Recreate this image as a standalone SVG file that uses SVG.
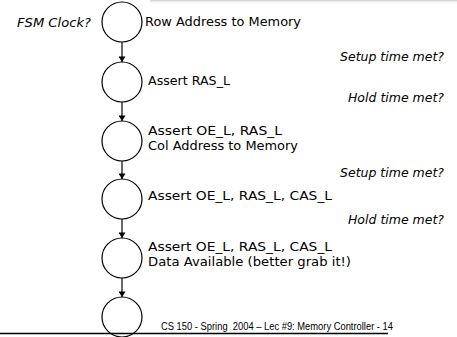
<svg xmlns="http://www.w3.org/2000/svg" width="457" height="337" viewBox="0 0 457 337">
<defs>
<style>
.st{fill:#fff;stroke:#000;stroke-width:1.2}
.lbl{font-family:"Comic Sans MS","DejaVu Sans","Liberation Sans",sans-serif;font-size:12.5px;fill:#000}
.q{font-family:"Comic Sans MS","DejaVu Sans","Liberation Sans",sans-serif;font-size:12.5px;font-style:italic;fill:#000}
.ft{font-family:"Liberation Sans",Arial,sans-serif;font-size:10px;fill:#000}
.ed{stroke:#000;stroke-width:1.2;fill:none;marker-end:url(#ah)}
</style>
<marker id="ah" viewBox="0 0 8 10" refX="8" refY="5" markerWidth="6" markerHeight="7" markerUnits="userSpaceOnUse" orient="auto"><path d="M0,0 L8,5 L0,10 Z" fill="#000"/></marker>
<linearGradient id="tg" x1="0" y1="0" x2="0" y2="1"><stop offset="0" stop-color="#c8c8c8"/><stop offset="1" stop-color="#fff" stop-opacity="0"/></linearGradient>
</defs>
<rect x="0" y="0" width="457" height="337" fill="#fff"/>
<rect x="150" y="0" width="307" height="4" fill="url(#tg)"/>
<g id="connectors">
<path class="ed" d="M122,42 V62"/>
<path class="ed" d="M122,102 V121"/>
<path class="ed" d="M122,161 V179"/>
<path class="ed" d="M122,219 V238"/>
<path class="ed" d="M122,278 V297"/>
</g>
<g id="s1"><circle class="st" cx="122" cy="22" r="20"/></g>
<g id="s2"><circle class="st" cx="122" cy="82" r="20"/></g>
<g id="s3"><circle class="st" cx="122" cy="141" r="20"/></g>
<g id="s4"><circle class="st" cx="122" cy="199" r="20"/></g>
<g id="s5"><circle class="st" cx="122" cy="258" r="20"/></g>
<g id="s6"><circle class="st" cx="122" cy="317" r="20"/></g>
<g id="labels">
<text class="q" x="17" y="27" textLength="74" lengthAdjust="spacingAndGlyphs">FSM Clock?</text>
<text class="lbl" x="145" y="26" textLength="156" lengthAdjust="spacingAndGlyphs">Row Address to Memory</text>
<text class="q" x="444" y="61" text-anchor="end">Setup time met?</text>
<text class="lbl" x="148" y="85" textLength="82" lengthAdjust="spacingAndGlyphs">Assert RAS_L</text>
<text class="q" x="444" y="102" text-anchor="end">Hold time met?</text>
<text class="lbl" x="148" y="135" textLength="134" lengthAdjust="spacingAndGlyphs">Assert OE_L, RAS_L</text>
<text class="lbl" x="148" y="150" textLength="150" lengthAdjust="spacingAndGlyphs">Col Address to Memory</text>
<text class="q" x="444" y="177" text-anchor="end">Setup time met?</text>
<text class="lbl" x="148" y="200" textLength="184" lengthAdjust="spacingAndGlyphs">Assert OE_L, RAS_L, CAS_L</text>
<text class="q" x="444" y="224" text-anchor="end">Hold time met?</text>
<text class="lbl" x="148" y="251" textLength="184" lengthAdjust="spacingAndGlyphs">Assert OE_L, RAS_L, CAS_L</text>
<text class="lbl" x="148" y="266" textLength="203" lengthAdjust="spacingAndGlyphs">Data Available (better grab it!)</text>
<text class="ft" x="161" y="330" textLength="232" lengthAdjust="spacingAndGlyphs" xml:space="preserve">CS 150 - Spring  2004 – Lec #9: Memory Controller - 14</text>
</g>
<line x1="0" y1="333.5" x2="388" y2="333.5" stroke="#000" stroke-width="1.5"/>
</svg>
